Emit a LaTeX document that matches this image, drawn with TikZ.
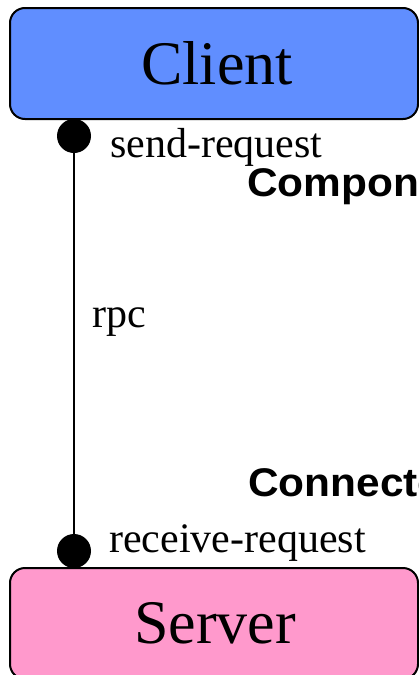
\documentclass[tikz,border=0pt]{standalone}
\usepackage{fontspec}
\setmainfont{Liberation Serif}
\newfontfamily\labelsans[FakeStretch=1.06]{Liberation Sans}
\definecolor{clientblue}{RGB}{96,142,255}
\definecolor{serverpink}{RGB}{255,153,204}
\tikzset{
  compbox/.style={draw=black, line width=2pt, rounded corners=15pt,
    minimum width=408pt, minimum height=111pt, inner sep=0pt,
    font=\fontsize{62}{70}\selectfont},
  portdot/.style={circle, fill=black, draw=none, minimum size=34pt, inner sep=0pt},
  portlabel/.style={anchor=base west, inner sep=0pt, font=\fontsize{42}{48}\selectfont},
  kindlabel/.style={anchor=base west, inner sep=0pt, font=\labelsans\bfseries\fontsize{40}{46}\selectfont},
  wire/.style={draw=black, line width=2pt}
}
\begin{document}
\begin{tikzpicture}[x=1pt, y=-1pt]
  \useasboundingbox (0,0) rectangle (419,675);
  \clip (0,0) rectangle (419,675);

  % components
  \node[compbox, fill=clientblue] (client) at (214,63.5) {\hspace*{6pt}Client};
  \node[compbox, fill=serverpink] (server) at (214,623.5) {\hspace*{2pt}Server};

  % ports and the connector between them
  \node[portdot] (sendport) at (74,136) {};
  \node[portdot] (recvport) at (74,551) {};
  \draw[wire] (sendport) -- (recvport);

  % labels
  \node[portlabel] (sendlbl) at (110,157) {send-request};
  \node[portlabel] (recvlbl) at (109,552) {receive-request};
  \node[portlabel] (rpclbl) at (92,327) {rpc};
  \node[kindlabel] (complbl) at (247,196) {Component};
  \node[kindlabel] (connlbl) at (248,496) {Connector};
\end{tikzpicture}
\end{document}
